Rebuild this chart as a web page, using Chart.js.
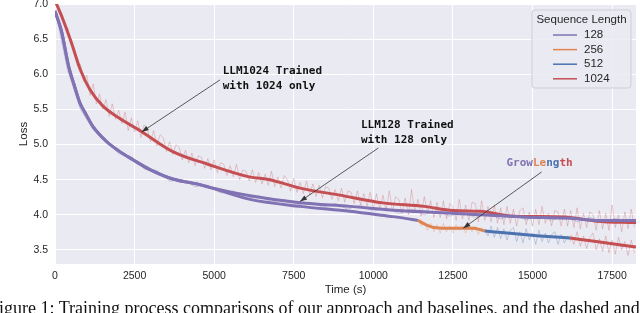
<!DOCTYPE html>
<html>
<head>
<meta charset="utf-8">
<script src="https://cdn.jsdelivr.net/npm/chart.js@4.4.0/dist/chart.umd.min.js"></script>
<style>
  html, body { margin: 0; padding: 0; background: #fff; overflow: hidden; }
  #wrap { position: relative; width: 640px; height: 313px; overflow: hidden; }
  #caption { position: absolute; left: -11px; top: 298px; font: 18px "Liberation Serif", serif; color: #111; white-space: nowrap; }
</style>
</head>
<body>
<div id="wrap">
  <canvas id="lossChart" width="640" height="313"></canvas>
  <div id="caption">Figure 1: Training process comparisons of our approach and baselines, and the dashed and the solid lines comparing the</div>
</div>
<script>
// smoothed curves (time in s, loss)
var llm1024Time = [0, 250, 500, 800, 1100, 1500, 2000, 2700, 3700, 4800, 6100, 6750, 7700, 8950, 10300, 11600, 12500, 13350, 14400, 16000, 17000, 18250]
var llm1024Loss = [7.05, 6.78, 6.47, 6.06, 5.78, 5.55, 5.38, 5.19, 4.90, 4.72, 4.54, 4.50, 4.38, 4.28, 4.17, 4.12, 4.06, 4.05, 3.98, 3.97, 3.91, 3.89]

var llm128Time = [0, 200, 430, 600, 785, 950, 1200, 1600, 2000, 2460, 3000, 3700, 4550, 4870, 6125, 7700, 9250, 10800, 12600, 14700, 16200, 17000, 18250]
var llm128Loss = [6.90, 6.62, 6.11, 5.85, 5.59, 5.45, 5.25, 5.05, 4.91, 4.78, 4.64, 4.51, 4.43, 4.39, 4.27, 4.17, 4.12, 4.06, 4.02, 3.97, 3.95, 3.92, 3.92]

// GrowLength run, one piece per sequence length
var grow128Time = [0, 200, 430, 600, 785, 950, 1200, 1600, 2000, 2460, 3000, 3700, 4550, 6125, 7700, 9250, 10500, 10850, 11400]
var grow128Loss = [6.90, 6.62, 6.11, 5.85, 5.59, 5.45, 5.25, 5.05, 4.91, 4.78, 4.64, 4.51, 4.43, 4.22, 4.12, 4.05, 3.98, 3.96, 3.92]
var grow256Time = [11400, 11650, 11900, 12300, 12650, 13150, 13500]
var grow256Loss = [3.92, 3.86, 3.82, 3.81, 3.81, 3.81, 3.77]
var grow512Time = [13500, 14200, 15230, 16180]
var grow512Loss = [3.77, 3.74, 3.70, 3.67]
var grow1024Time = [16180, 17000, 18250]
var grow1024Loss = [3.67, 3.62, 3.54]

// raw (unsmoothed) losses: start time, sample step (s), values
var raw1024Start = 0, raw1024Step = 100
var raw1024Loss = [
  7.10, 6.92, 6.88, 6.70, 6.66, 6.42, 6.38, 6.12, 6.14, 5.90, 5.99, 5.70, 5.86, 5.58, 5.72, 5.50, 5.64, 5.40, 5.58, 5.36, 5.49,
  5.30, 5.46, 5.20, 5.38, 5.18, 5.34, 5.10, 5.28, 5.22, 5.04, 5.20, 4.98, 5.14, 5.10, 4.90, 5.04, 4.86, 5.00, 4.96, 4.78,
  4.92, 4.74, 4.88, 4.70, 4.84, 4.82, 4.66, 4.80, 4.64, 4.78, 4.60, 4.74, 4.72, 4.56, 4.70, 4.54, 4.72, 4.50, 4.64, 4.62,
  4.48, 4.64, 4.46, 4.60, 4.44, 4.58, 4.42, 4.62, 4.40, 4.54, 4.38, 4.56, 4.50, 4.34, 4.52, 4.32, 4.46, 4.30, 4.48, 4.28,
  4.44, 4.26, 4.42, 4.24, 4.40, 4.38, 4.22, 4.36, 4.20, 4.38, 4.18, 4.34, 4.32, 4.16, 4.34, 4.14, 4.30, 4.12, 4.32, 4.10,
  4.30, 4.08, 4.28, 4.06, 4.34, 4.05, 4.26, 4.22, 4.02, 4.24, 4.00, 4.36, 4.04, 4.22, 3.98, 4.26, 4.02, 4.20, 3.96, 4.18,
  3.96, 4.20, 3.94, 4.16, 4.12, 3.92, 4.22, 3.94, 4.14, 3.92, 4.18, 4.16, 3.90, 4.20, 3.92, 4.12, 3.90, 4.14, 3.88, 4.10,
  3.86, 4.12, 3.88, 4.08, 3.84, 4.06, 4.10, 3.86, 4.04, 3.84, 4.08, 3.86, 4.12, 3.88, 4.02, 3.84, 4.06, 4.04, 3.84, 4.08,
  3.84, 4.06, 3.82, 4.10, 3.80, 4.02, 3.82, 4.04, 4.00, 3.78, 4.06, 3.80, 4.02, 3.78, 4.14, 3.82, 4.00, 3.76, 4.04, 3.80, 4.08, 3.82]
var raw128Start = 0, raw128Step = 400
var raw128Loss = [6.92, 6.05, 5.50, 5.21, 5.08, 4.87, 4.83, 4.65, 4.63, 4.48, 4.50, 4.40, 4.42, 4.31, 4.34, 4.23, 4.27, 4.18, 4.22, 4.14,
  4.18, 4.11, 4.16, 4.08, 4.14, 4.05, 4.10, 4.02, 4.08, 4.00, 4.06, 3.98, 4.04, 3.96, 4.02, 3.94, 4.00, 3.93, 3.99, 3.92,
  3.98, 3.90, 3.96, 3.89, 3.95, 3.89]
var rawGrow256Start = 11400, rawGrow256Step = 100
var rawGrow256Loss = [3.94, 3.84, 3.90, 3.78, 3.88, 3.76, 3.86, 3.74, 3.88, 3.76, 3.84, 3.74, 3.86, 3.78, 3.84, 3.74, 3.86, 3.76, 3.84, 3.72, 3.82, 3.76]
var rawGrow512Start = 13500, rawGrow512Step = 100
var rawGrow512Loss = [3.80, 3.70, 3.84, 3.68, 3.82, 3.66, 3.80, 3.64, 3.78, 3.82, 3.62, 3.76, 3.60, 3.80, 3.64, 3.74, 3.58, 3.78, 3.62, 3.74,
  3.60, 3.72, 3.76, 3.58, 3.72, 3.60, 3.70, 3.62]
var rawGrow1024Start = 16200, rawGrow1024Step = 100
var rawGrow1024Loss = [3.72, 3.58, 3.76, 3.55, 3.70, 3.52, 3.68, 3.74, 3.50, 3.66, 3.48, 3.70, 3.46, 3.64, 3.44, 3.68, 3.50, 3.62, 3.42, 3.64, 3.46]

var seqLengths = ['128', '256', '512', '1024']
var seqColors = ['#8172B3', '#DD8452', '#4C72B0', '#C44E52']

var xTickValues = [0, 2500, 5000, 7500, 10000, 12500, 15000, 17500]
var yTickValues = [3.5, 4.0, 4.5, 5.0, 5.5, 6.0, 6.5, 7.0]

function pts(times, losses) {
  return times.map(function (t, i) { return { x: t, y: losses[i] } })
}
function rawPts(start, step, losses) {
  return losses.map(function (v, i) { return { x: start + i * step, y: v } })
}
function alpha(hex, a) {
  var n = parseInt(hex.slice(1), 16)
  return 'rgba(' + (n >> 16) + ',' + ((n >> 8) & 255) + ',' + (n & 255) + ',' + a + ')'
}
function smooth(data, color) {
  return { data: data, borderColor: color, borderWidth: 3, cubicInterpolationMode: 'monotone', order: 0 }
}
function raw(data, color, a) {
  return { data: data, borderColor: alpha(color, a), borderWidth: 1, tension: 0, order: 1 }
}

var FONT = 'Liberation Sans'

var bgPlugin = {
  id: 'bg',
  beforeDraw: function (chart) {
    var a = chart.chartArea, ctx = chart.ctx
    ctx.save()
    ctx.fillStyle = '#EAEAF2'
    ctx.fillRect(a.left, a.top, a.right - a.left, a.bottom - a.top)
    ctx.restore()
  }
}

// arrows + labels, in data coordinates
var notes = [
  { text: ['LLM1024 Trained', 'with 1024 only'], tx: 5267, ty: 6.04, fx: 5183, fy: 5.92, hx: 2723, hy: 5.18 },
  { text: ['LLM128 Trained', 'with 128 only'], tx: 9611, ty: 5.27, fx: 10155, fy: 4.95, hx: 7695, hy: 4.19 },
  { grow: true, tx: 14180, ty: 4.735, fx: 15287, fy: 4.61, hx: 12825, hy: 3.81 }
]

var notePlugin = {
  id: 'notes',
  afterDatasetsDraw: function (chart) {
    var ctx = chart.ctx, xs = chart.scales.x, ys = chart.scales.y
    ctx.save()
    notes.forEach(function (n) {
      var x0 = xs.getPixelForValue(n.fx), y0 = ys.getPixelForValue(n.fy)
      var x1 = xs.getPixelForValue(n.hx), y1 = ys.getPixelForValue(n.hy)
      ctx.strokeStyle = '#333'
      ctx.fillStyle = '#333'
      ctx.lineWidth = 0.8
      ctx.beginPath(); ctx.moveTo(x0, y0); ctx.lineTo(x1, y1); ctx.stroke()
      var ang = Math.atan2(y1 - y0, x1 - x0)
      ctx.beginPath()
      ctx.moveTo(x1, y1)
      ctx.lineTo(x1 - 7 * Math.cos(ang) + 2.5 * Math.sin(ang), y1 - 7 * Math.sin(ang) - 2.5 * Math.cos(ang))
      ctx.lineTo(x1 - 7 * Math.cos(ang) - 2.5 * Math.sin(ang), y1 - 7 * Math.sin(ang) + 2.5 * Math.cos(ang))
      ctx.closePath(); ctx.fill()

      ctx.font = 'bold 11px "DejaVu Sans Mono"'
      ctx.textBaseline = 'middle'
      ctx.textAlign = 'left'
      var tx = xs.getPixelForValue(n.tx), ty = ys.getPixelForValue(n.ty)
      if (n.grow) {
        var parts = [['Grow', 0], ['Le', 1], ['ng', 2], ['th', 3]]
        parts.forEach(function (p) {
          ctx.fillStyle = seqColors[p[1]]
          ctx.fillText(p[0], tx, ty)
          tx += ctx.measureText(p[0]).width
        })
      } else {
        ctx.fillStyle = '#111'
        n.text.forEach(function (line, i) { ctx.fillText(line, tx, ty + i * 15) })
      }
    })
    ctx.restore()
  }
}

var legendPlugin = {
  id: 'seqLegend',
  afterDraw: function (chart) {
    var ctx = chart.ctx, a = chart.chartArea
    var w = 99, h = 78, x = a.right - 5 - w, y = a.top + 6
    ctx.save()
    ctx.beginPath()
    ctx.roundRect(x, y, w, h, 3)
    ctx.fillStyle = 'rgba(234,234,242,0.85)'
    ctx.fill()
    ctx.strokeStyle = '#CFCFD6'
    ctx.lineWidth = 1
    ctx.stroke()
    ctx.fillStyle = '#262626'
    ctx.font = '11.5px "' + FONT + '"'
    ctx.textBaseline = 'middle'
    ctx.textAlign = 'center'
    ctx.fillText('Sequence Length', x + w / 2, y + 10)
    ctx.textAlign = 'left'
    seqLengths.forEach(function (s, i) {
      var ry = y + 25 + i * 14.6
      ctx.strokeStyle = seqColors[i]
      ctx.lineWidth = 1.5
      ctx.beginPath(); ctx.moveTo(x + 21, ry); ctx.lineTo(x + 45, ry); ctx.stroke()
      ctx.fillStyle = '#262626'
      ctx.fillText(s, x + 52, ry)
    })
    ctx.restore()
  }
}

function fixedTicks(values) {
  return function (scale) {
    scale.ticks = values.map(function (v) { return { value: v } })
  }
}

var config = {
  type: 'line',
  data: {
    datasets: [
      smooth(pts(grow1024Time, grow1024Loss), seqColors[3]),
      smooth(pts(grow512Time, grow512Loss), seqColors[2]),
      smooth(pts(grow256Time, grow256Loss), seqColors[1]),
      smooth(pts(grow128Time, grow128Loss), seqColors[0]),
      smooth(pts(llm128Time, llm128Loss), seqColors[0]),
      smooth(pts(llm1024Time, llm1024Loss), seqColors[3]),
      raw(rawPts(raw128Start, raw128Step, raw128Loss), seqColors[0], 0.35),
      raw(rawPts(rawGrow256Start, rawGrow256Step, rawGrow256Loss), seqColors[1], 0.3),
      raw(rawPts(rawGrow512Start, rawGrow512Step, rawGrow512Loss), seqColors[2], 0.3),
      raw(rawPts(rawGrow1024Start, rawGrow1024Step, rawGrow1024Loss), seqColors[3], 0.28),
      raw(rawPts(raw1024Start, raw1024Step, raw1024Loss), seqColors[3], 0.28)
    ]
  },
  options: {
    responsive: false,
    animation: false,
    layout: { padding: { left: 0, right: 4, top: 4, bottom: 16 } },
    elements: { point: { radius: 0 } },
    plugins: { legend: { display: false }, tooltip: { enabled: false } },
    scales: {
      x: {
        type: 'linear', min: 0, max: 18250,
        afterBuildTicks: fixedTicks(xTickValues),
        afterFit: function (s) { s.height = 33; s.paddingLeft = 0; s.paddingRight = 0 },
        ticks: { autoSkip: false, padding: 6, color: '#262626', font: { family: FONT, size: 10.5 }, maxRotation: 0,
          callback: function (v) { return String(v) } },
        grid: { color: '#ffffff', lineWidth: 1, drawTicks: false },
        border: { display: false },
        title: { display: true, text: 'Time (s)', color: '#262626', font: { family: FONT, size: 11.5 }, padding: { top: 0, bottom: 0 } }
      },
      y: {
        type: 'linear', min: 3.3, max: 7.0,
        afterBuildTicks: fixedTicks(yTickValues),
        afterFit: function (s) { s.width = 55; s.paddingTop = 0; s.paddingBottom = 0 },
        ticks: { autoSkip: false, padding: 7, color: '#262626', font: { family: FONT, size: 10.5 },
          callback: function (v) { return v.toFixed(1) } },
        grid: { color: '#ffffff', lineWidth: 1, drawTicks: false },
        border: { display: false },
        title: { display: true, text: 'Loss', color: '#262626', font: { family: FONT, size: 11.5 }, padding: { top: 17, bottom: 0 } }
      }
    }
  },
  plugins: [bgPlugin, notePlugin, legendPlugin]
}

var lossChart = new Chart(document.getElementById('lossChart'), config)
</script>
</body>
</html>
